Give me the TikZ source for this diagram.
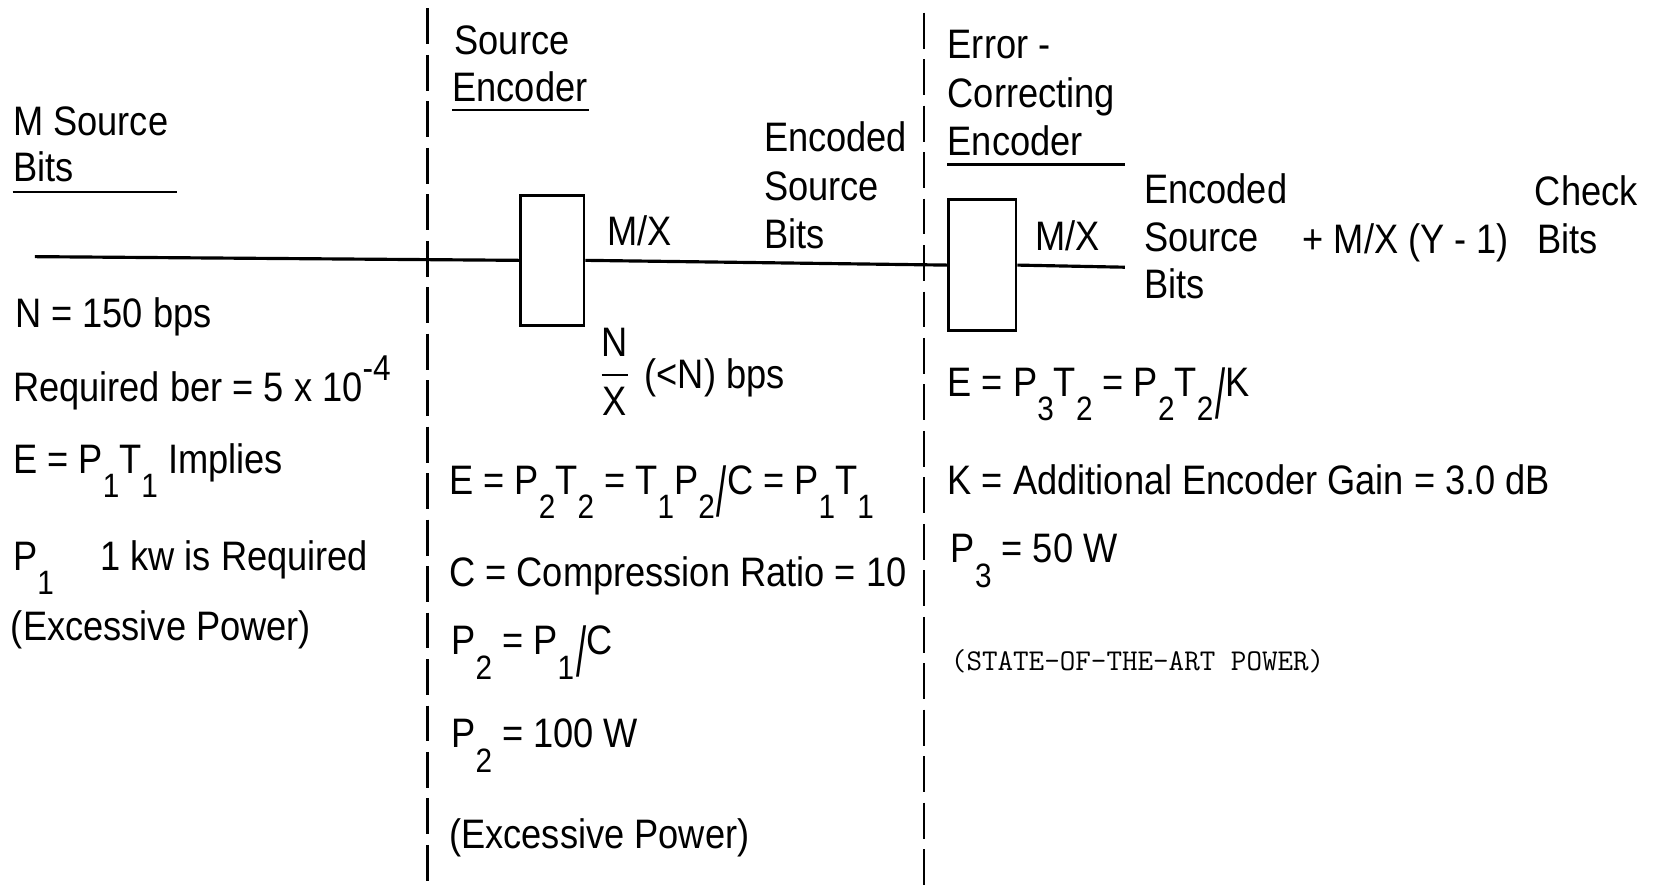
\documentclass[tikz,border=0pt]{standalone}
\usepackage{fontspec}
\setmainfont{Liberation Sans}[FakeStretch=0.88]
\usepackage{amsmath}

\newcommand{\lo}[1]{\raisebox{-11.5pt}{\fontsize{16}{16}\selectfont #1}}
\newcommand{\hi}[1]{\raisebox{10pt}{\fontsize{17}{17}\selectfont #1}}
\newcommand{\frsl}{\hspace{1pt}\raisebox{-10.5pt}{\scalebox{1}[1.7]{/}}}

\tikzset{
  txt/.style={anchor=base west, inner sep=0pt, font=\fontsize{19.5}{22}\selectfont},
  small/.style={anchor=base west, inner sep=0pt, font=\ttfamily\fontsize{14.3}{16}\selectfont},
  wire/.style={line width=1.5pt},
  rule/.style={line width=1.2pt},
  sep/.style={line width=1.3pt, dash pattern=on 17pt off 5pt},
  encbox/.style={draw, line width=1.3pt, inner sep=0pt}
}

\begin{document}
\begin{tikzpicture}[x=0.5pt, y=-0.5pt]
    \useasboundingbox (0,0) rectangle (1568,842);

    % dividers
    \draw[sep] (405,8) -- (405,842);
    \draw[sep] (875,12) -- (875,842);

    % left column
    \node[txt] (msrc) at (12,128) {M Source};
    \node[txt] (mbits) at (12,172) {Bits};
    \draw[rule] (12,182) -- (168,182);
    \coordinate (src) at (33,243);
    \node[txt] (rate) at (14,310) {N = 150 bps};
    \node[txt] (ber) at (12,380) {Required ber = 5 x 10\hi{-4}};
    \node[txt] (e1) at (12,448) {E = P\lo{1}T\lo{1} Implies};
    \node[txt] (p1) at (12,540) {P\lo{1}\hspace{22pt}1 kw is Required};
    \node[txt] (ex1) at (10,606) {(Excessive Power)};

    % source encoder
    \node[txt] (setop) at (430,52) {Source};
    \node[txt] (sebot) at (428,96) {Encoder};
    \draw[rule] (428,104) -- (558,104);
    \node[encbox, minimum width=30pt, minimum height=61.5pt] (srcbox) at (523,246.5) {};
    \node[txt] (mx1) at (575,232) {M/X};
    \node[txt] (esb1) at (723,143) {Encoded};
    \node[txt] (esb2) at (723,190) {Source};
    \node[txt] (esb3) at (723,235) {Bits};
    \node[inner sep=0pt, font=\fontsize{19.5}{22}\selectfont] (nx) at (582,352) {$\dfrac{\hbox{N}}{\hbox{X}}$};
    \node[txt] (nrate) at (610,368) {(<N) bps};
    \node[txt] (e2) at (425,468) {E = P\lo{2}T\lo{2} = T\lo{1}P\lo{2}\frsl C = P\lo{1}T\lo{1}};
    \node[txt] (cr) at (425,555) {C = Compression Ratio = 10};
    \node[txt] (p2a) at (427,620) {P\lo{2} = P\lo{1}\frsl C};
    \node[txt] (p2b) at (427,708) {P\lo{2} = 100 W};
    \node[txt] (ex2) at (425,803) {(Excessive Power)};

    % error-correcting encoder
    \node[txt] (ectop) at (897,55) {Error -};
    \node[txt] (ecmid) at (897,102) {Correcting};
    \node[txt] (ecbot) at (897,147) {Encoder};
    \draw[rule] (897,156) -- (1065,156);
    \node[encbox, minimum width=32pt, minimum height=62pt] (ecbox) at (930,251) {};
    \coordinate (out) at (1065,253);
    \node[txt] (mx2) at (980,237) {M/X};
    \node[txt] (ecs1) at (1083,193) {Encoded};
    \node[txt] (ecs2) at (1083,238) {Source};
    \node[txt] (ecs3) at (1083,283) {Bits};
    \node[txt] (chk) at (1233,240) {+ M/X (Y - 1)};
    \node[txt] (chk1) at (1453,195) {Check};
    \node[txt] (chk2) at (1455,240) {Bits};
    \node[txt] (e3) at (897,375) {E = P\lo{3}T\lo{2} = P\lo{2}T\lo{2}\frsl K};
    \node[txt] (kg) at (897,468) {K = Additional Encoder Gain = 3.0 dB};
    \node[txt] (p3) at (900,533) {P\lo{3} = 50 W};
    \node[small] (soa) at (900,635) {(STATE-OF-THE-ART POWER)};

    % signal path
    \draw[wire] (src) -- (srcbox.west);
    \draw[wire] (srcbox.east) -- (ecbox.west);
    \draw[wire] (ecbox.east) -- (out);
\end{tikzpicture}
\end{document}
